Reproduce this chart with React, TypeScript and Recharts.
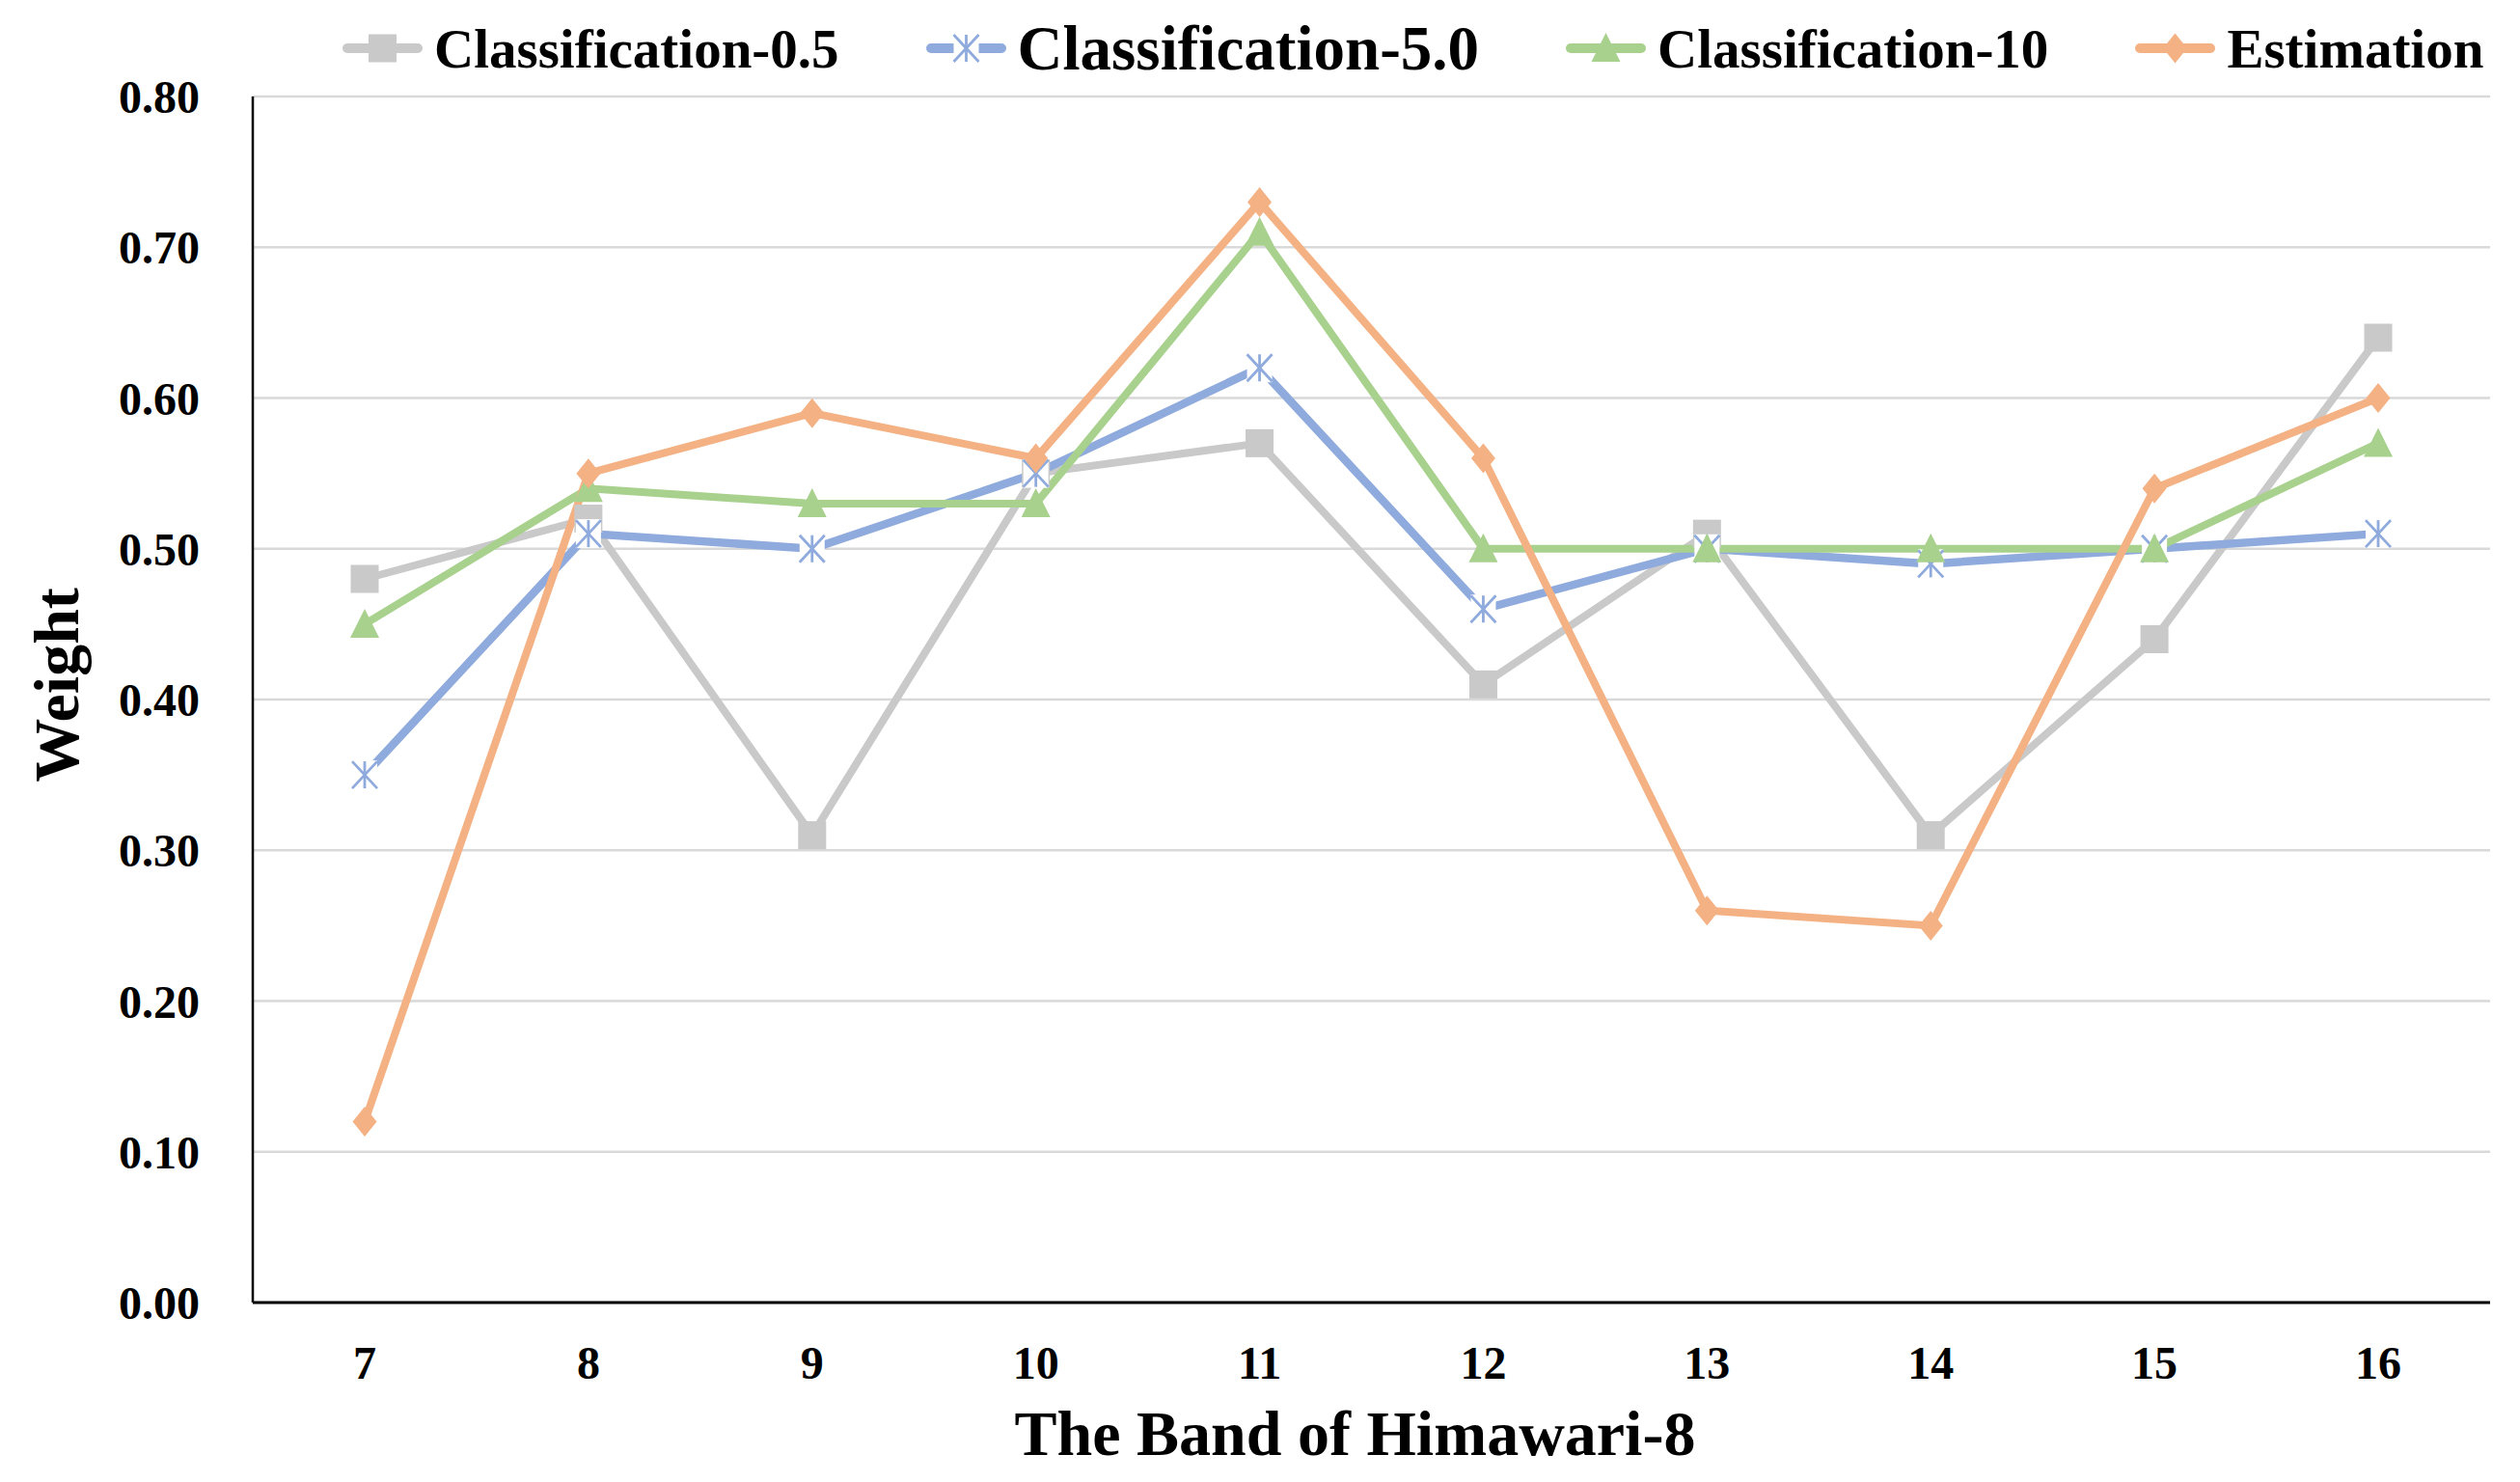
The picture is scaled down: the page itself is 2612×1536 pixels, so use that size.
import React from "react";
import { LineChart, Line, XAxis, YAxis, CartesianGrid, Label } from "recharts";

// bands of Himawari-8 on the x axis
const bands = ["7", "8", "9", "10", "11", "12", "13", "14", "15", "16"];

// weights
const class05 = [0.48, 0.52, 0.31, 0.55, 0.57, 0.41, 0.51, 0.31, 0.44, 0.64];
const class50 = [0.35, 0.51, 0.5, 0.55, 0.62, 0.46, 0.5, 0.49, 0.5, 0.51];
const class10 = [0.45, 0.54, 0.53, 0.53, 0.71, 0.5, 0.5, 0.5, 0.5, 0.57];
const estimation = [0.12, 0.55, 0.59, 0.56, 0.73, 0.56, 0.26, 0.25, 0.54, 0.6];

const yTicks = [0, 0.1, 0.2, 0.3, 0.4, 0.5, 0.6, 0.7, 0.8];

const data = bands.map((band, i) => ({
  band,
  c05: class05[i],
  c50: class50[i],
  c10: class10[i],
  est: estimation[i],
}));

const GRAY = "#C9C9C9";
const BLUE = "#8FAADC";
const GREEN = "#A9D18E";
const ORANGE = "#F4B183";
const FONT = '"Liberation Serif", "Times New Roman", serif';

type P = { cx: number; cy: number };

const Square = ({ cx, cy }: P) => (
  <rect x={cx - 14.5} y={cy - 14.5} width={29} height={29} fill={GRAY} />
);

const Asterisk = ({ cx, cy }: P) => (
  <g>
    <rect x={cx - 13} y={cy - 15} width={26} height={30} fill="#fff" />
    <g stroke={BLUE} strokeWidth={2.8}>
      <line x1={cx - 13} y1={cy - 14} x2={cx + 13} y2={cy + 14} />
      <line x1={cx + 13} y1={cy - 14} x2={cx - 13} y2={cy + 14} />
      <line x1={cx} y1={cy - 14} x2={cx} y2={cy + 14} />
    </g>
  </g>
);

const Triangle = ({ cx, cy }: P) => (
  <path d={`M${cx},${cy - 16} L${cx + 15},${cy + 14} L${cx - 15},${cy + 14} Z`} fill={GREEN} />
);

const Diamond = ({ cx, cy }: P) => (
  <path d={`M${cx},${cy - 15.5} L${cx + 12.5},${cy} L${cx},${cy + 15.5} L${cx - 12.5},${cy} Z`} fill={ORANGE} />
);

const legendItems = [
  { name: "Classification-0.5", color: GRAY, Marker: Square, size: 57 },
  { name: "Classification-5.0", color: BLUE, Marker: Asterisk, size: 65 },
  { name: "Classification-10", color: GREEN, Marker: Triangle, size: 57 },
  { name: "Estimation", color: ORANGE, Marker: Diamond, size: 57 },
];

const LegendRow = () => (
  <div
    style={{
      position: "absolute",
      top: 7,
      left: 347,
      height: 70,
      display: "flex",
      alignItems: "center",
      fontFamily: FONT,
      fontWeight: "bold",
      whiteSpace: "nowrap",
    }}
  >
    {legendItems.map(({ name, color, Marker, size }) => (
      <div key={name} style={{ display: "flex", alignItems: "center", marginRight: 90 }}>
        <svg width={83} height={40}>
          <line x1={5} y1={20} x2={78} y2={20} stroke={color} strokeWidth={10} strokeLinecap="round" />
          <Marker cx={41.5} cy={20} />
        </svg>
        <span style={{ fontSize: size, marginLeft: 12, lineHeight: 1 }}>{name}</span>
      </div>
    ))}
  </div>
);

const tickStyle = { fontFamily: FONT, fontWeight: "bold", fontSize: 48, fill: "#000" };

const App: React.FC = () => {
  return (
    <div style={{ position: "relative", width: 2596, height: 1520, background: "#fff" }}>
      <LineChart
        width={2596}
        height={1520}
        data={data}
        margin={{ top: 92, right: 23, bottom: 0, left: 0 }}
      >
        <CartesianGrid vertical={false} stroke="#D9D9D9" strokeWidth={2.5} />
        <XAxis
          dataKey="band"
          height={178}
          padding={{ left: 116, right: 116 }}
          tickLine={false}
          tickSize={0}
          tickMargin={45}
          axisLine={{ stroke: "#000", strokeWidth: 3 }}
          tick={tickStyle}
        >
          <Label
            value="The Band of Himawari-8"
            position="insideBottom"
            offset={20}
            dx={-17}
            style={{ fontFamily: FONT, fontWeight: "bold", fontSize: 66, fill: "#000" }}
          />
        </XAxis>
        <YAxis
          width={254}
          domain={[0, 0.8]}
          ticks={yTicks}
          interval={0}
          tickFormatter={(v: number) => v.toFixed(2)}
          tickLine={false}
          tickSize={0}
          tickMargin={55}
          axisLine={{ stroke: "#000", strokeWidth: 2.5 }}
          tick={tickStyle}
        >
          <Label
            content={({ viewBox }: any) => {
              const cy = viewBox.y + viewBox.height / 2 - 15;
              return (
                <text
                  x={50}
                  y={cy}
                  transform={`rotate(-90, 50, ${cy})`}
                  textAnchor="middle"
                  dominantBaseline="central"
                  style={{ fontFamily: FONT, fontWeight: "bold", fontSize: 66, fill: "#000" }}
                >
                  Weight
                </text>
              );
            }}
          />
        </YAxis>
        <Line
          dataKey="c05"
          stroke={GRAY}
          strokeWidth={8}
          isAnimationActive={false}
          dot={(p: any) => <Square key={`a${p.index}`} cx={p.cx} cy={p.cy} />}
          activeDot={false}
        />
        <Line
          dataKey="c50"
          stroke={BLUE}
          strokeWidth={8.5}
          isAnimationActive={false}
          dot={(p: any) => <Asterisk key={`b${p.index}`} cx={p.cx} cy={p.cy} />}
          activeDot={false}
        />
        <Line
          dataKey="c10"
          stroke={GREEN}
          strokeWidth={8}
          isAnimationActive={false}
          dot={(p: any) => <Triangle key={`c${p.index}`} cx={p.cx} cy={p.cy} />}
          activeDot={false}
        />
        <Line
          dataKey="est"
          stroke={ORANGE}
          strokeWidth={8}
          isAnimationActive={false}
          dot={(p: any) => <Diamond key={`d${p.index}`} cx={p.cx} cy={p.cy} />}
          activeDot={false}
        />
      </LineChart>
      <LegendRow />
    </div>
  );
};

export default App;
